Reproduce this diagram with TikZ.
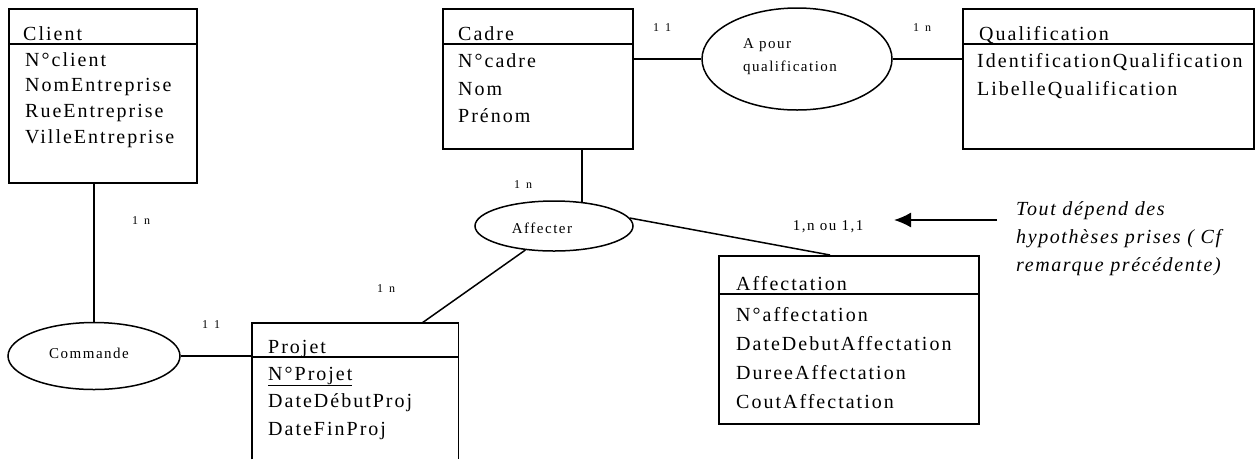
\documentclass[tikz,border=0pt]{standalone}
\usepackage{fontspec}
\setmainfont{Liberation Serif}
\newfontfamily\bodyf{Liberation Serif}[LetterSpace=10]
\newfontfamily\cardf{Liberation Serif}[LetterSpace=25]
\newfontfamily\notef{Liberation Serif}[LetterSpace=8]
\usetikzlibrary{shapes.geometric,arrows.meta}
\begin{document}
\begin{tikzpicture}[x=1pt,y=-1pt,
  ent/.style={draw, line width=1.5pt, anchor=north west, inner sep=0pt},
  rel/.style={draw, ellipse, line width=1.5pt, inner sep=0pt},
  attr/.style={anchor=base west, inner sep=0pt, font=\bodyf\fontsize{20}{24}\selectfont},
  reltext/.style={inner sep=0pt, font=\bodyf\fontsize{15}{23}\selectfont},
  card/.style={inner sep=0pt, font=\cardf\fontsize{12}{14}\selectfont},
  notetext/.style={anchor=base west, inner sep=0pt, font=\notef\itshape\fontsize{20}{28}\selectfont},
  link/.style={line width=1.5pt},
  hdr/.style={line width=1.5pt},
]
\useasboundingbox (0,0) rectangle (1257,459);
\path[fill=white] (0,0) rectangle (1257,459);

% ---- Client
\node[ent, minimum width=188pt, minimum height=174pt] (client) at (8,8) {};
\draw[hdr] ([yshift=-36pt]client.north west) -- ([yshift=-36pt]client.north east);
\node[attr] (client-t) at (23,40) {Client};
\node[attr] (client-a1) at (25,66) {N°client};
\node[attr] (client-a2) at (25,91) {NomEntreprise};
\node[attr] (client-a3) at (25,117) {RueEntreprise};
\node[attr] (client-a4) at (25,143) {VilleEntreprise};

% ---- Cadre
\node[ent, minimum width=190pt, minimum height=140pt] (cadre) at (442,8) {};
\draw[hdr] ([yshift=-36pt]cadre.north west) -- ([yshift=-36pt]cadre.north east);
\node[attr] (cadre-t) at (458,40) {Cadre};
\node[attr] (cadre-a1) at (458,67) {N°cadre};
\node[attr] (cadre-a2) at (458,95) {Nom};
\node[attr] (cadre-a3) at (458,122) {Prénom};

% ---- Qualification
\node[ent, minimum width=291pt, minimum height=140pt] (qualif) at (962,8) {};
\draw[hdr] ([yshift=-36pt]qualif.north west) -- ([yshift=-36pt]qualif.north east);
\node[attr] (qualif-t) at (979,40) {Qualification};
\node[attr] (qualif-a1) at (977,67) {IdentificationQualification};
\node[attr] (qualif-a2) at (977,95) {LibelleQualification};

% ---- Projet (cut by the lower edge)
\node[anchor=north west, inner sep=0pt, minimum width=206pt, minimum height=136pt] (projet) at (252,323) {};
\draw[link] (projet.south west) |- (projet.north east) -- (projet.south east);
\draw[hdr] ([yshift=-34pt]projet.north west) -- ([yshift=-34pt]projet.north east);
\node[attr] (projet-t) at (268,353) {Projet};
\node[attr] (projet-a1) at (268,380) {\underline{N°Projet}};
\node[attr] (projet-a2) at (268,407) {DateDébutProj};
\node[attr] (projet-a3) at (268,435) {DateFinProj};

% ---- Affectation
\node[ent, minimum width=260pt, minimum height=168pt] (affectation) at (718,255) {};
\draw[hdr] ([yshift=-39pt]affectation.north west) -- ([yshift=-39pt]affectation.north east);
\node[attr] (affectation-t) at (736,290) {Affectation};
\node[attr] (affectation-a1) at (736,321) {N°affectation};
\node[attr] (affectation-a2) at (736,350) {DateDebutAffectation};
\node[attr] (affectation-a3) at (736,379) {DureeAffectation};
\node[attr] (affectation-a4) at (736,408) {CoutAffectation};

% ---- Relations
\node[rel, minimum width=172pt, minimum height=67pt] (commande) at (94,356) {};
\node[reltext] (commande-t) at (89,353) {Commande};
\node[rel, minimum width=190pt, minimum height=102pt] (apq) at (797,59) {};
\node[reltext, align=left] (apq-t) at (790,57) {A pour\\qualification};
\node[rel, minimum width=158pt, minimum height=50pt] (affecter) at (554,226) {};
\node[reltext] (affecter-t) at (542,228) {Affecter};

% ---- Connectors
\draw[link] (commande.north |- client.south) -- (commande.north);
\draw[link] (commande.east) -- (commande.east -| projet.west);
\draw[link] (apq.west -| cadre.east) -- (apq.west);
\draw[link] (apq.east) -- (apq.east -| qualif.west);
\draw[link] (affecter.41 |- cadre.south) -- (affecter.41);
\draw[link] (affecter.220) -- ([xshift=170pt]projet.north west);
\draw[link] (affecter.6) -- ([xshift=112pt]affectation.north west);

% ---- Cardinalities
\node[card] (c1) at (141,221) {1 n};
\node[card] (c2) at (211,325) {1 1};
\node[card] (c3) at (386,289) {1 n};
\node[card] (c4) at (523,185) {1 n};
\node[card] (c5) at (662,28) {1 1};
\node[card] (c6) at (922,28) {1 n};
\node[reltext] (c7) at (828,227) {1,n ou 1,1};

% ---- Note
\node[notetext] (note1) at (1016,215) {Tout dépend des};
\node[notetext] (note2) at (1016,243) {hypothèses prises ( Cf};
\node[notetext] (note3) at (1016,271) {remarque précédente)};
\coordinate (arrstart) at (997,220);
\coordinate (arrtip) at (894,220);
\draw[link, -{Latex[length=17pt,width=15pt]}] (arrstart) -- (arrtip);
\end{tikzpicture}
\end{document}
